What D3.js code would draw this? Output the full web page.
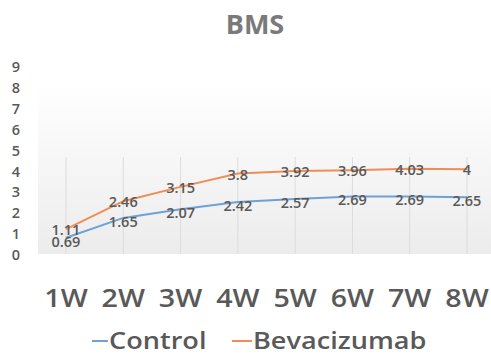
<!DOCTYPE html>
<html><head><meta charset="utf-8">
<script src="https://cdn.jsdelivr.net/npm/d3@7"></script>
<style>body{margin:0;background:#fff}svg{display:block}</style>
</head><body>
<svg id="c" width="491" height="357"></svg>
<script>
const categories = ["1W","2W","3W","4W","5W","6W","7W","8W"];
const control = [0.69,1.65,2.07,2.42,2.57,2.69,2.69,2.65];
const bevacizumab = [1.11,2.46,3.15,3.8,3.92,3.96,4.03,4];
const yTicks = [0,1,2,3,4,5,6,7,8,9];
const seriesNames = ["Control","Bevacizumab"];
const colors = ["#6fa0d6","#ef8d55"];

const svg = d3.select("#c");
const font = "'Open Sans', sans-serif";
const txt = "#595959";
const stretch = 1.1;

const x = d3.scalePoint().domain(categories).range([66,467]);
const y = d3.scaleLinear().domain([0,9]).range([252,66]);
const yLab = d3.scaleLinear().domain([0,9]).range([255,67]);

const defs = svg.append("defs");
const g = defs.append("linearGradient").attr("id","bg").attr("x1",0).attr("y1",0).attr("x2",0).attr("y2",1);
g.append("stop").attr("offset","0%").attr("stop-color","#ffffff");
g.append("stop").attr("offset","100%").attr("stop-color","#ececec");

svg.append("rect").attr("x",38).attr("y",85).attr("width",453).attr("height",y(0)+2-85).attr("fill","url(#bg)");

// vertical gridlines
svg.append("g").selectAll("line").data(categories).join("line")
  .attr("x1",d=>x(d)).attr("x2",d=>x(d)).attr("y1",y(4.6)).attr("y2",y(0)+2)
  .attr("stroke","#dcdcdc").attr("stroke-width",1);

// title
svg.append("text").attr("x",255).attr("y",34).attr("text-anchor","middle")
  .attr("font-family",font).attr("font-weight",700).attr("font-size",27).attr("fill","#7a7a7a").text("BMS");

// y axis labels
svg.append("g").selectAll("text").data(yTicks).join("text")
  .attr("x",16).attr("y",d=>yLab(d)).attr("dy","0.35em").attr("text-anchor","middle")
  .attr("font-family",font).attr("font-weight",600).attr("font-size",14.5).attr("fill",txt).text(d=>d);

// lines
const series = [control, bevacizumab];
const line = d3.line().x((d,i)=>x(categories[i])).y(d=>y(d));
series.forEach((s,k)=>{
  svg.append("path").datum(s).attr("d",line).attr("fill","none")
    .attr("stroke",colors[k]).attr("stroke-width",2);
});
// data labels
const labelDy = [4, 1];
series.forEach((s,k)=>{
  svg.append("g").selectAll("text").data(s).join("text")
    .attr("x",(d,i)=>x(categories[i])).attr("y",(d,i)=>y(d)+labelDy[k]).attr("dy","0.35em")
    .attr("text-anchor","middle").attr("font-family",font).attr("font-weight",600)
    .attr("font-size",14.5).attr("fill",txt).text(d=>d);
});

// x labels
svg.append("g").selectAll("text").data(categories).join("text")
  .attr("transform",d=>`translate(${x(d)},298) scale(${stretch},1)`).attr("dy","0.35em").attr("text-anchor","middle")
  .attr("font-family",font).attr("font-weight",600).attr("font-size",26).attr("fill",txt).text(d=>d);

// legend
const legX = [92, 232];
const dashLen = [16, 20];
seriesNames.forEach((n,k)=>{
  svg.append("line").attr("x1",legX[k]).attr("x2",legX[k]+dashLen[k]).attr("y1",341).attr("y2",341)
    .attr("stroke",colors[k]).attr("stroke-width",2);
  svg.append("text").attr("transform",`translate(${legX[k]+dashLen[k]+1},341) scale(1.13,1)`).attr("dy","0.35em")
    .attr("font-family",font).attr("font-weight",600).attr("font-size",24).attr("fill",txt).text(n);
});
</script>
</body></html>
